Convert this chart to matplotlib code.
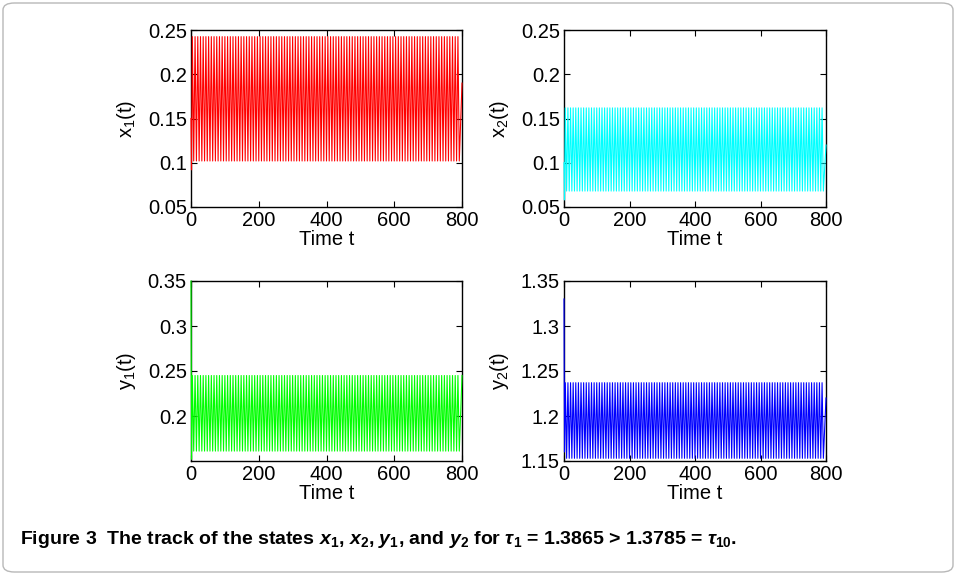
import matplotlib
matplotlib.use('Agg')

import matplotlib.pyplot as plt
from matplotlib.patches import FancyBboxPatch
import numpy as np

plt.rcParams['font.family'] = ['Liberation Sans', 'DejaVu Sans']
plt.rcParams['mathtext.fontset'] = 'custom'
plt.rcParams['mathtext.rm'] = 'Liberation Sans'
plt.rcParams['mathtext.it'] = 'Liberation Sans:italic'
plt.rcParams['mathtext.bf'] = 'Liberation Sans:bold'
plt.rcParams['mathtext.bfit'] = 'Liberation Sans:bold:italic'

# --- data ---
t_end = 800
period = 8.0            # one spike cycle, counted from the picture

# x1: start value, first dip, then steady spikes, value at t = 800
x1_start = [0.15, 0.092]
x1_peak, x1_trough = 0.2425, 0.102
x1_last = 0.19

x2_start = [0.10, 0.058]
x2_peak, x2_trough = 0.162, 0.068
x2_last = 0.12

y1_start = [0.35, 0.152]
y1_peak, y1_trough = 0.245, 0.161
y1_last = 0.245

y2_start = [1.33, 1.16]
y2_peak, y2_trough = 1.237, 1.153
y2_last = 1.22

panels = [
    ('x$_1$(t)', x1_start, x1_peak, x1_trough, x1_last, 'red',
     (0.05, 0.25), [0.05, 0.1, 0.15, 0.2, 0.25], ['0.05', '0.1', '0.15', '0.2', '0.25']),
    ('x$_2$(t)', x2_start, x2_peak, x2_trough, x2_last, 'cyan',
     (0.05, 0.25), [0.05, 0.1, 0.15, 0.2, 0.25], ['0.05', '0.1', '0.15', '0.2', '0.25']),
    ('y$_1$(t)', y1_start, y1_peak, y1_trough, y1_last, (0, 1, 0),
     (0.15, 0.35), [0.2, 0.25, 0.3, 0.35], ['0.2', '0.25', '0.3', '0.35']),
    ('y$_2$(t)', y2_start, y2_peak, y2_trough, y2_last, 'blue',
     (1.15, 1.35), [1.15, 1.2, 1.25, 1.3, 1.35], ['1.15', '1.2', '1.25', '1.3', '1.35']),
]

# axes boxes in pixels: left, top, right, bottom
W, H = 956, 575
boxes = [(191, 30, 462, 207), (564, 30, 826, 207),
         (191, 281, 462, 461), (564, 281, 826, 461)]


def track(start, peak, trough, last):
    # steady spike train: peak / trough alternate every half period
    n = int((t_end - period) / (period / 2))
    t = np.concatenate([[0.0, 1.5], period / 2 + np.arange(n) * period / 2, [t_end]])
    v = np.concatenate([start, np.tile([peak, trough], n // 2 + 1)[:n], [last]])
    return t, v


fig = plt.figure(figsize=(W / 100, H / 100), dpi=100)

for (lab, start, pk, tr, last, col, ylim, yt, ytl), (l, tp, r, b) in zip(panels, boxes):
    ax = fig.add_axes([l / W, 1 - b / H, (r - l) / W, (b - tp) / H])
    t, v = track(start, pk, tr, last)
    ax.plot(t, v, color=col, linewidth=0.8, zorder=3, clip_on=False)
    ax.set_xlim(0, t_end)
    ax.set_ylim(*ylim)
    ax.set_xticks([0, 200, 400, 600, 800])
    ax.set_yticks(yt)
    ax.set_yticklabels(ytl)
    ax.tick_params(direction='in', top=True, right=True, labelsize=14.5,
                   length=4, width=0.8, pad=3)
    ax.set_xlabel('Time t', fontsize=14.5, labelpad=0)
    ax.set_ylabel(lab, fontsize=14.5, labelpad=7)
    for s in ax.spines.values():
        s.set_linewidth(1.0)
        s.set_zorder(2.5)

fig.text(20 / W, 1 - 540 / H,
         r'Figure 3  The track of the states $\mathbfit{x}_\mathbf{1}$, $\mathbfit{x}_\mathbf{2}$, '
         r'$\mathbfit{y}_\mathbf{1}$, and $\mathbfit{y}_\mathbf{2}$ for '
         r'$\mathbfit{\tau}_\mathbf{1}$ = 1.3865 > 1.3785 = $\mathbfit{\tau}_\mathbf{10}$.',
         fontsize=14, fontweight='bold', va='center', ha='left')

frame = FancyBboxPatch((3 / W, 3 / H), 950 / W, 569 / H,
                       boxstyle='round,pad=0,rounding_size=0.012',
                       transform=fig.transFigure, fill=False,
                       edgecolor='#b8b8b8', linewidth=1.0)
fig.add_artist(frame)

fig.savefig('out.png', dpi=100)
